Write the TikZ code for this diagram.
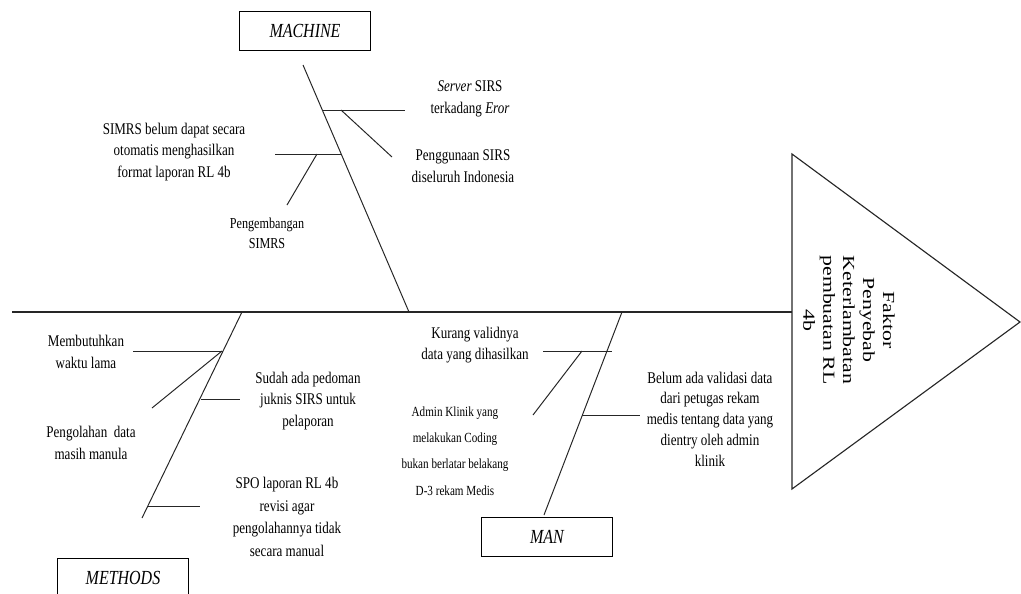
\documentclass[tikz,border=0pt]{standalone}
\usepackage{fontspec}
\setmainfont{Liberation Serif}
\newfontfamily\bonefont[FakeStretch=0.8]{Liberation Serif}
\newfontfamily\headfont[FakeStretch=1.29]{Liberation Serif}

\begin{document}
\begin{tikzpicture}[x=0.025cm, y=-0.025cm,
  bone/.style={line width=0.7pt, black!85},
  backbone/.style={line width=1pt, black!85},
  cause/.style={align=center, inner sep=0pt, font=\bonefont\fontsize{11.6}{15.4}\selectfont},
  smallcause/.style={align=center, inner sep=0pt, font=\bonefont\fontsize{9.9}{18.8}\selectfont},
  category/.style={draw, line width=0.7pt, minimum width=3.25cm, minimum height=0.975cm, inner sep=0pt, font=\bonefont\itshape\fontsize{14.2}{16}\selectfont}]

\useasboundingbox (0,0) rectangle (1021,593);


\node[category] (machine) at (305,31) {MACHINE};
\node[category] (methods) at (123,578) {METHODS};
\node[category] (man) at (547,537) {MAN};


\coordinate (T1) at (792,154);
\coordinate (T2) at (792,489);
\coordinate (T3) at (1020,322);
\coordinate (neck) at (792,312);
\coordinate (tail) at (12,312);
\draw[line width=0.8pt, black!85] (T1) -- (T2) -- (T3) -- cycle;
\draw[backbone] (tail) -- (neck);

\node[rotate=-90, align=center, inner sep=0pt, font=\headfont\fontsize{12}{14.2}\selectfont] (head) at (849,320) {Faktor\\Penyebab\\Keterlambatan\\pembuatan RL\\4b};


\coordinate (mc-top) at (303,65);
\coordinate (mc-end) at (409,312);
\coordinate (me-bot) at (142,518);
\coordinate (me-end) at (242,312);
\coordinate (mn-bot) at (544,515);
\coordinate (mn-end) at (622,312);

\draw[bone] (mc-top) -- (mc-end);
\draw[bone] (me-bot) -- (me-end);
\draw[bone] (mn-bot) -- (mn-end);


\coordinate (s1-a) at (323,110);  \coordinate (s1-b) at (405,110);
\coordinate (s2-a) at (341,110);  \coordinate (s2-b) at (392,157);
\coordinate (s3-a) at (275,154);  \coordinate (s3-b) at (341,154);
\coordinate (s4-a) at (317,154);  \coordinate (s4-b) at (287,205);
\coordinate (s5-a) at (133,351);  \coordinate (s5-b) at (223,351);
\coordinate (s6-a) at (222,351);  \coordinate (s6-b) at (152,408);
\coordinate (s7-a) at (201,399);  \coordinate (s7-b) at (240,399);
\coordinate (s8-a) at (147,506);  \coordinate (s8-b) at (200,506);
\coordinate (s9-a) at (543,351);  \coordinate (s9-b) at (612,351);
\coordinate (s10-a) at (582,351); \coordinate (s10-b) at (533,415);
\coordinate (s11-a) at (582,415); \coordinate (s11-b) at (640,415);

\foreach \i in {1,...,11}
\draw[bone] (s\i-a) -- (s\i-b);


\node[cause] (server) at (470,99) {\textit{Server} SIRS\\terkadang \textit{Eror}};
\node[cause] (pakai) at (463,166) {Penggunaan SIRS\\diseluruh Indonesia};
\node[cause] (simrs) at (174,152) {SIMRS belum dapat secara\\otomatis menghasilkan\\format laporan RL 4b};
\node[cause, font=\bonefont\fontsize{10.8}{14.2}\selectfont] (kembang) at (267,233) {Pengembangan\\SIMRS};

\node[cause] (waktu) at (86,352) {Membutuhkan\\waktu lama};
\node[cause] (olah) at (91,443) {Pengolahan\ \ data\\masih manula};
\node[cause] (juknis) at (308,401) {Sudah ada pedoman\\juknis SIRS untuk\\pelaporan};
\node[cause, font=\bonefont\fontsize{11.6}{16}\selectfont] (spo) at (287,517) {SPO laporan RL 4b\\revisi agar\\pengolahannya tidak\\secara manual};

\node[cause] (valid) at (475,345) {Kurang validnya\\data yang dihasilkan};
\node[smallcause] (admin) at (455,451) {Admin Klinik yang\\melakukan Coding\\bukan berlatar belakang\\D-3 rekam Medis};
\node[cause, font=\bonefont\fontsize{11.6}{14.8}\selectfont] (petugas) at (710,419) {Belum ada validasi data\\dari petugas rekam\\medis tentang data yang\\dientry oleh admin\\klinik};

\end{tikzpicture}
\end{document}
